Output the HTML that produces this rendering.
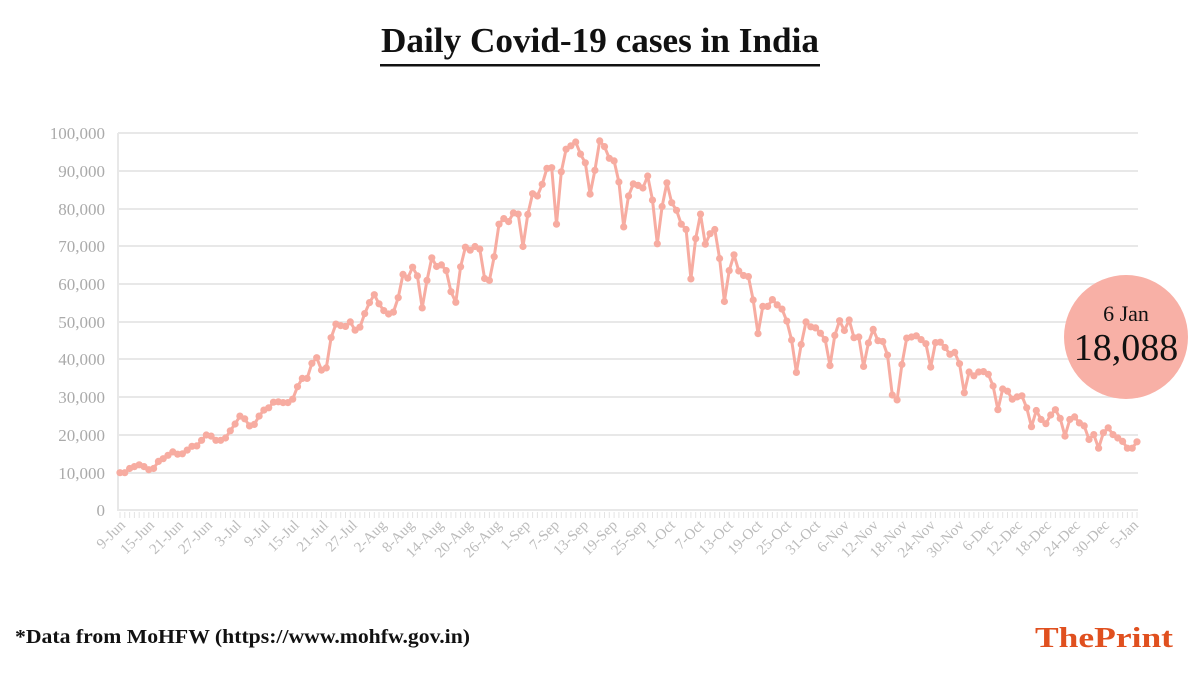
<!DOCTYPE html>
<html><head><meta charset="utf-8">
<style>
html,body{margin:0;padding:0;background:#fff;}
body{width:1200px;height:675px;position:relative;overflow:hidden;font-family:"Liberation Serif",serif;}
</style></head>
<body>
<svg id="c" width="1200" height="675" viewBox="0 0 1200 675" xmlns="http://www.w3.org/2000/svg" style="position:absolute;left:0;top:0">
<text x="600" y="52" text-anchor="middle" font-family="Liberation Serif, serif" font-weight="bold" font-size="35" fill="#111" textLength="438" lengthAdjust="spacingAndGlyphs">Daily Covid-19 cases in India</text>
<rect x="380" y="64" width="440" height="2.5" fill="#111"/>
<g stroke="#e8e8e8" stroke-width="2">
<line x1="118" y1="133" x2="1138" y2="133"/><line x1="118" y1="171" x2="1138" y2="171"/>
<line x1="118" y1="209" x2="1138" y2="209"/><line x1="118" y1="246" x2="1138" y2="246"/>
<line x1="118" y1="284" x2="1138" y2="284"/><line x1="118" y1="322" x2="1138" y2="322"/>
<line x1="118" y1="359" x2="1138" y2="359"/><line x1="118" y1="397" x2="1138" y2="397"/>
<line x1="118" y1="435" x2="1138" y2="435"/><line x1="118" y1="473" x2="1138" y2="473"/>
<line x1="118" y1="510" x2="1138" y2="510"/>
<line x1="118" y1="133" x2="118" y2="511"/>
</g>
<g id="ticks" stroke="#e4e4e4" stroke-width="1"></g>
<g font-family="Liberation Serif, serif" font-size="17" fill="#aaa" text-anchor="end">
<text x="105" y="139">100,000</text><text x="105" y="177">90,000</text><text x="105" y="215">80,000</text>
<text x="105" y="252">70,000</text><text x="105" y="290">60,000</text><text x="105" y="328">50,000</text>
<text x="105" y="365">40,000</text><text x="105" y="403">30,000</text><text x="105" y="441">20,000</text>
<text x="105" y="479">10,000</text><text x="105" y="516">0</text>
</g>
<g font-family="Liberation Serif, serif" font-size="15" fill="#bbb" text-anchor="end">
<text transform="translate(126,526) rotate(-45)">9-Jun</text>
<text transform="translate(155,526) rotate(-45)">15-Jun</text>
<text transform="translate(184,526) rotate(-45)">21-Jun</text>
<text transform="translate(213,526) rotate(-45)">27-Jun</text>
<text transform="translate(242,526) rotate(-45)">3-Jul</text>
<text transform="translate(271,526) rotate(-45)">9-Jul</text>
<text transform="translate(300,526) rotate(-45)">15-Jul</text>
<text transform="translate(329,526) rotate(-45)">21-Jul</text>
<text transform="translate(358,526) rotate(-45)">27-Jul</text>
<text transform="translate(387,526) rotate(-45)">2-Aug</text>
<text transform="translate(415,526) rotate(-45)">8-Aug</text>
<text transform="translate(444,526) rotate(-45)">14-Aug</text>
<text transform="translate(473,526) rotate(-45)">20-Aug</text>
<text transform="translate(502,526) rotate(-45)">26-Aug</text>
<text transform="translate(531,526) rotate(-45)">1-Sep</text>
<text transform="translate(560,526) rotate(-45)">7-Sep</text>
<text transform="translate(589,526) rotate(-45)">13-Sep</text>
<text transform="translate(618,526) rotate(-45)">19-Sep</text>
<text transform="translate(647,526) rotate(-45)">25-Sep</text>
<text transform="translate(676,526) rotate(-45)">1-Oct</text>
<text transform="translate(705,526) rotate(-45)">7-Oct</text>
<text transform="translate(734,526) rotate(-45)">13-Oct</text>
<text transform="translate(763,526) rotate(-45)">19-Oct</text>
<text transform="translate(792,526) rotate(-45)">25-Oct</text>
<text transform="translate(821,526) rotate(-45)">31-Oct</text>
<text transform="translate(850,526) rotate(-45)">6-Nov</text>
<text transform="translate(879,526) rotate(-45)">12-Nov</text>
<text transform="translate(908,526) rotate(-45)">18-Nov</text>
<text transform="translate(936,526) rotate(-45)">24-Nov</text>
<text transform="translate(965,526) rotate(-45)">30-Nov</text>
<text transform="translate(994,526) rotate(-45)">6-Dec</text>
<text transform="translate(1023,526) rotate(-45)">12-Dec</text>
<text transform="translate(1052,526) rotate(-45)">18-Dec</text>
<text transform="translate(1081,526) rotate(-45)">24-Dec</text>
<text transform="translate(1110,526) rotate(-45)">30-Dec</text>
<text transform="translate(1139,526) rotate(-45)">5-Jan</text>
</g>
<polyline id="line" fill="none" stroke="#f7aca1" stroke-width="3" stroke-linejoin="round" points=""/>
<g id="dots" fill="#f7aca1"></g>
<circle cx="1126" cy="337" r="62" fill="#f8b0a6"/>
<text x="1126" y="321" text-anchor="middle" font-family="Liberation Serif, serif" font-size="22" fill="#111">6 Jan</text>
<text x="1126" y="360" text-anchor="middle" font-family="Liberation Serif, serif" font-size="38" fill="#111">18,088</text>
<text x="15" y="643" font-family="Liberation Serif, serif" font-weight="bold" font-size="20" fill="#111" textLength="455" lengthAdjust="spacingAndGlyphs">*Data from MoHFW (https://www.mohfw.gov.in)</text>
<text x="1173" y="647" text-anchor="end" font-family="Liberation Serif, serif" font-weight="bold" font-size="28" fill="#e0501f" textLength="138" lengthAdjust="spacingAndGlyphs">ThePrint</text>
</svg>
<script>
var v=[9.9,9.9,11.0,11.5,12.0,11.5,10.7,
11.0,12.9,13.6,14.5,15.4,14.8,14.9,
15.9,16.9,17.0,18.5,19.9,19.6,18.5,
18.5,19.1,21.0,22.8,24.9,24.2,22.3,
22.7,24.9,26.5,27.1,28.6,28.7,28.5,
28.5,29.4,32.7,34.9,34.9,38.9,40.4,
37.1,37.7,45.7,49.3,48.9,48.7,49.9,
47.7,48.5,52.1,55.0,57.1,54.7,52.9,
52.0,52.5,56.3,62.5,61.5,64.4,62.1,
53.6,60.9,66.9,64.6,65.0,63.5,57.9,
55.1,64.5,69.7,68.9,69.9,69.2,61.4,
60.9,67.2,75.8,77.3,76.5,78.8,78.5,
69.9,78.4,83.9,83.3,86.4,90.6,90.8,
75.8,89.7,95.7,96.6,97.6,94.4,92.1,
83.8,90.1,97.9,96.4,93.3,92.6,87.0,
75.1,83.3,86.5,86.1,85.4,88.6,82.2,
70.6,80.5,86.8,81.5,79.5,75.8,74.4,
61.3,72.0,78.5,70.5,73.3,74.4,66.7,
55.3,63.5,67.7,63.4,62.2,61.9,55.7,
46.8,54.0,54.0,55.8,54.4,53.3,50.1,
45.1,36.5,43.9,49.9,48.6,48.3,46.9,
45.2,38.3,46.3,50.2,47.6,50.4,45.7,
45.9,38.1,44.3,47.9,44.9,44.7,41.1,
30.5,29.2,38.6,45.6,45.9,46.2,45.2,
44.1,37.9,44.4,44.5,43.1,41.3,41.8,
38.8,31.1,36.6,35.6,36.6,36.7,36.0,
32.9,26.6,32.1,31.5,29.4,30.0,30.3,
27.1,22.1,26.4,24.0,22.9,25.2,26.6,
24.3,19.6,24.0,24.7,23.1,22.3,18.7,
20.0,16.4,20.5,21.8,20.0,19.1,18.2,
16.4,16.4,18.1];
var n=v.length,pts=[],dots='',ticks='';
var step=(1137-120)/(n-1);
for(var i=0;i<n;i++){var x=120+i*step,y=510-v[i]*3.77;pts.push(x.toFixed(1)+','+y.toFixed(1));
dots+='<circle cx="'+x.toFixed(1)+'" cy="'+y.toFixed(1)+'" r="3.6"/>';
ticks+='<line x1="'+x.toFixed(1)+'" y1="512" x2="'+x.toFixed(1)+'" y2="518"/>';}
document.getElementById('line').setAttribute('points',pts.join(' '));
document.getElementById('dots').innerHTML=dots;
document.getElementById('ticks').innerHTML=ticks;
</script>
</body></html>
